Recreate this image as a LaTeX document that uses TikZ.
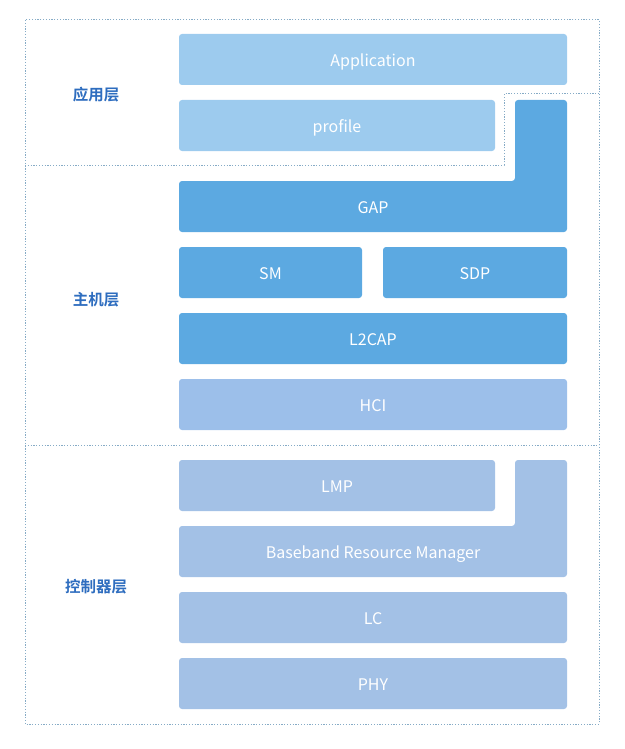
\documentclass[tikz,border=0pt]{standalone}
\usepackage{fontspec}
\setmainfont{Noto Sans CJK SC}
\newfontfamily\cjkbold{Noto Sans CJK SC Bold}
\definecolor{appc}{HTML}{9DCBEE}
\definecolor{hostc}{HTML}{5CA9E1}
\definecolor{hcic}{HTML}{9CBFEA}
\definecolor{ctrlc}{HTML}{A3C1E6}
\definecolor{labc}{HTML}{2E6DBF}
\definecolor{dotc}{HTML}{86ABC6}
\begin{document}
\begin{tikzpicture}[x=1pt,y=-1pt,
  blk/.style={rounded corners=3pt,draw=none,inner sep=0pt,outer sep=0pt,anchor=north west,
    text=white,font=\fontsize{16}{19}\selectfont,text height=15pt,text depth=0.5pt},
  blktext/.style={text=white,font=\fontsize{16}{19}\selectfont,inner sep=0pt,text height=15pt,text depth=0.5pt},
  lay/.style={text=labc,font=\cjkbold\fontsize{15.5}{18}\selectfont,inner sep=0pt},
  dotline/.style={draw=dotc,line width=1pt,dash pattern=on 1.2pt off 1.6pt}]
\useasboundingbox (0,0) rectangle (624,749);
% frames
\draw[dotline] (25,20) rectangle (599,724);
\coordinate (d1a) at (25,165);
\coordinate (d1b) at (504,165);
\coordinate (d1c) at (504,94);
\coordinate (d1d) at (599,94);
\draw[dotline] (d1a) -- (d1b) -- (d1c) -- (d1d);
\coordinate (d2a) at (25,445);
\coordinate (d2b) at (599,445);
\draw[dotline] (d2a) -- (d2b);
% layer labels
\node[lay] (lapp) at (96,95) {应用层};
\node[lay] (lhost) at (96,300) {主机层};
\node[lay] (lctrl) at (96,587) {控制器层};
% application layer
\node[blk,fill=appc,minimum width=388pt,minimum height=51pt] (app) at (179,34) {Application};
\node[blk,fill=appc,minimum width=316pt,minimum height=51pt] (prof) at (179,100) {profile};
% GAP L-shape
\fill[hostc,rounded corners=3pt] (515,100) -- (567,100) -- (567,232) -- (179,232) -- (179,181) -- (515,181) -- cycle;
\node[blktext] (gap) at (373,206.5) {GAP};
\node[blk,fill=hostc,minimum width=183pt,minimum height=51pt] (sm) at (179,247) {SM};
\node[blk,fill=hostc,minimum width=184pt,minimum height=51pt] (sdp) at (383,247) {SDP};
\node[blk,fill=hostc,minimum width=388pt,minimum height=51pt] (l2) at (179,313) {L2CAP};
\node[blk,fill=hcic,minimum width=388pt,minimum height=51pt] (hci) at (179,379) {HCI};
% controller
\node[blk,fill=ctrlc,minimum width=316pt,minimum height=51pt] (lmp) at (179,460) {LMP};
\fill[ctrlc,rounded corners=3pt] (515,460) -- (567,460) -- (567,577) -- (179,577) -- (179,526) -- (515,526) -- cycle;
\node[blktext] (bb) at (373,551.5) {Baseband Resource Manager};
\node[blk,fill=ctrlc,minimum width=388pt,minimum height=51pt] (lc) at (179,592) {LC};
\node[blk,fill=ctrlc,minimum width=388pt,minimum height=51pt] (phy) at (179,658) {PHY};
\end{tikzpicture}
\end{document}
